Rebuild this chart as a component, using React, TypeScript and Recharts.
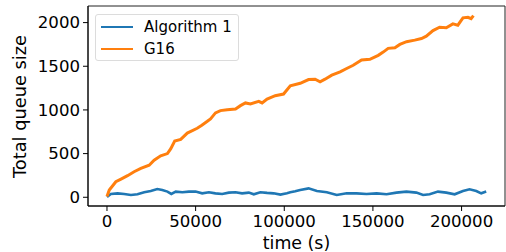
import { LineChart, Line, XAxis, YAxis, ReferenceArea, Label } from "recharts";

// ── Palette (matplotlib defaults) ──
const BLUE = "#1f77b4";
const ORANGE = "#ff7f0e";
const FONT = "'DejaVu Sans', sans-serif";

// ── Data ──
const algoTime = [
  0, 2200, 6000, 9700, 13500, 17200, 21000, 24700, 28400, 31200, 34100, 36300, 38800, 42500, 46200, 50000,
  53700, 57500, 61200, 65000, 68700, 72500, 76200, 80000, 82800, 86500, 90300, 94000, 97800, 101500, 103400,
  106200, 109000, 113700, 118400, 124000, 129600, 135200, 140800, 146400, 152100, 157700, 163300, 168900,
  174500, 178300, 182000, 186700, 191400, 196100, 200800, 204500, 208300, 211100, 213900,
];
const algoSize = [
  5, 38, 45, 38, 26, 34, 57, 72, 94, 83, 65, 38, 65, 57, 65, 65, 45, 57, 45, 38, 53, 57, 45, 53, 34, 57, 50, 45,
  30, 45, 57, 68, 83, 102, 72, 57, 26, 45, 45, 38, 45, 34, 53, 65, 53, 26, 34, 65, 53, 34, 72, 91, 72, 45, 65,
];

const g16Time = [
  0, 1300, 5000, 7900, 11600, 15300, 19100, 23800, 26600, 30300, 34100, 36000, 38200, 41600, 45300, 50900,
  53500, 56600, 58400, 61200, 64000, 67800, 72500, 75300, 78100, 80900, 85600, 87500, 90300, 94900, 99600,
  103400, 109000, 113700, 117400, 120200, 123000, 126800, 131500, 135200, 138900, 143600, 148300, 153000,
  155800, 158600, 162400, 165200, 169000, 173600, 177400, 180100, 183900, 187600, 191400, 195100, 197900,
  200800, 203600, 205400, 206700,
];
const g16Size = [
  8, 83, 178, 208, 247, 292, 330, 367, 424, 474, 500, 557, 644, 663, 735, 790, 825, 870, 898, 966, 992, 1003,
  1011, 1049, 1080, 1068, 1099, 1080, 1125, 1163, 1182, 1276, 1305, 1348, 1352, 1322, 1352, 1398, 1435, 1474,
  1511, 1572, 1580, 1625, 1662, 1705, 1712, 1750, 1781, 1799, 1818, 1844, 1909, 1947, 1940, 1985, 1970, 2054,
  2061, 2045, 2080,
];

const xTicks = [0, 50000, 100000, 150000, 200000];
const yTicks = [0, 500, 1000, 1500, 2000];
const X_DOMAIN: [number, number] = [-10700, 224500];
const Y_DOMAIN: [number, number] = [-100, 2190];

const algoData = algoTime.map((t, i) => ({ t, v: algoSize[i] }));
const g16Data = g16Time.map((t, i) => ({ t, v: g16Size[i] }));

const series = [
  { name: "Algorithm 1", color: BLUE },
  { name: "G16", color: ORANGE },
];

// matplotlib-style legend box, placed over the plot's upper-left corner
function MplLegend() {
  return (
    <div
      style={{
        position: "absolute",
        left: 95,
        top: 14,
        border: "1px solid #dcdcdc",
        borderRadius: 3,
        background: "rgba(255,255,255,0.8)",
        width: 144,
        height: 47,
        boxSizing: "border-box",
        paddingTop: 1,
        fontFamily: FONT,
        fontSize: 15,
      }}
    >
      {series.map((s) => (
        <div key={s.name} style={{ display: "flex", alignItems: "center", height: 22 }}>
          <span style={{ display: "inline-block", width: 32, height: 2, background: s.color, marginLeft: 5 }} />
          <span style={{ marginLeft: 11, color: "#000" }}>{s.name}</span>
        </div>
      ))}
    </div>
  );
}

export default function App() {
  const tick = { fontSize: 16.6, fill: "#000", fontFamily: FONT };
  return (
    <div style={{ position: "absolute", left: 0, top: 0, width: 506, height: 252, background: "#fff" }}>
      <LineChart width={506} height={252} margin={{ top: 6, right: 1, bottom: 0, left: 0 }}>
        <XAxis
          type="number"
          dataKey="t"
          domain={X_DOMAIN}
          ticks={xTicks}
          allowDataOverflow
          height={46}
          tick={tick}
          tickSize={5}
          tickMargin={4}
          stroke="#000"
        >
          <Label value="time (s)" position="insideBottom" offset={3} style={{ fontSize: 17.4, fill: "#000", fontFamily: FONT }} />
        </XAxis>
        <YAxis
          type="number"
          dataKey="v"
          domain={Y_DOMAIN}
          ticks={yTicks}
          allowDataOverflow
          width={88}
          tick={tick}
          tickSize={5}
          tickMargin={3}
          stroke="#000"
        >
          <Label
            content={() => (
              <text
                x={25.5}
                y={106.5}
                transform="rotate(-90 25.5 106.5)"
                textAnchor="middle"
                style={{ fontSize: 17.8, fill: "#000", fontFamily: FONT }}
              >
                Total queue size
              </text>
            )}
          />
        </YAxis>
        <ReferenceArea
          x1={X_DOMAIN[0]}
          x2={X_DOMAIN[1]}
          y1={Y_DOMAIN[0]}
          y2={Y_DOMAIN[1]}
          fill="none"
          stroke="#222"
          strokeWidth={1}
          ifOverflow="visible"
        />
        <Line
          data={algoData}
          dataKey="v"
          name="Algorithm 1"
          stroke={BLUE}
          strokeWidth={2.6}
          dot={false}
          type="linear"
          isAnimationActive={false}
        />
        <Line
          data={g16Data}
          dataKey="v"
          name="G16"
          stroke={ORANGE}
          strokeWidth={3}
          dot={false}
          type="linear"
          isAnimationActive={false}
        />
      </LineChart>
      <MplLegend />
    </div>
  );
}
